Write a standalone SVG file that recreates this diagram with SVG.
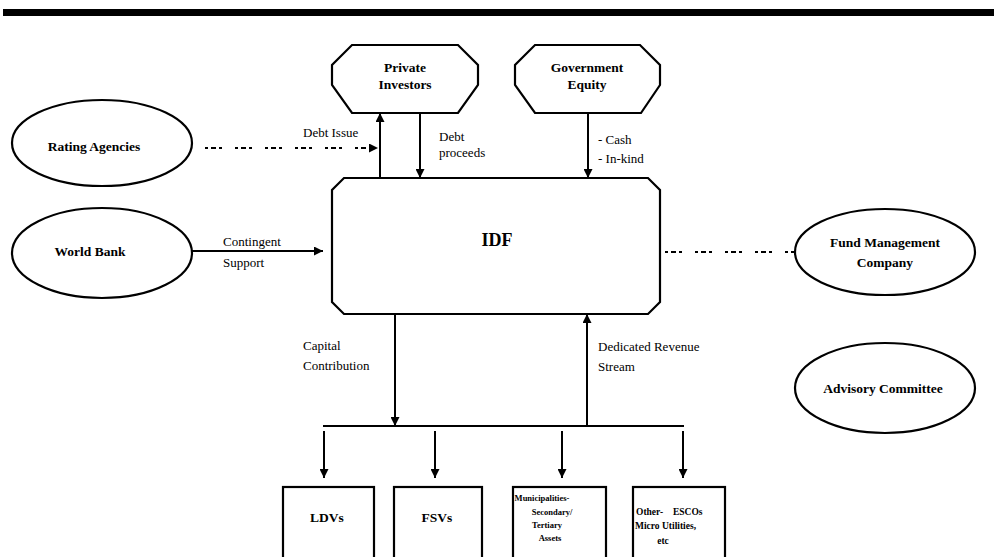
<svg xmlns="http://www.w3.org/2000/svg" width="994" height="557" viewBox="0 0 994 557">
  <style>
    .shape { fill: #fff; stroke: #000; stroke-width: 2.2; }
    .line { fill: none; stroke: #000; stroke-width: 2; }
    .dash { fill: none; stroke: #000; stroke-width: 2.2; stroke-dasharray: 3 3 5 3 3 13; }
    .node { font-family: "Liberation Serif", "Times New Roman", serif; font-weight: bold; font-size: 13.5px; fill: #000; text-anchor: middle; }
    .small { font-family: "Liberation Serif", "Times New Roman", serif; font-weight: bold; font-size: 8.5px; fill: #000; }
    .lbl { font-family: "Liberation Serif", "Times New Roman", serif; font-size: 13px; fill: #000; }
  </style>
  <defs>
    <marker id="arrow" viewBox="0 0 10 10" refX="10" refY="5" markerWidth="9" markerHeight="9" markerUnits="userSpaceOnUse" orient="auto">
      <path d="M0,0 L10,5 L0,10 z" fill="#000"/>
    </marker>
  </defs>

  <rect x="3" y="9" width="991" height="7" fill="#000"/>

  <g id="private-investors">
    <path class="shape" d="M352,45 L458,45 L478,65 L478,85 L458,113 L352,113 L332,85 L332,65 Z"/>
    <text class="node" x="405" y="72">Private</text>
    <text class="node" x="405" y="89">Investors</text>
  </g>
  <g id="government-equity">
    <path class="shape" d="M535,45 L640,45 L660,65 L660,85 L641,113 L535,113 L515,85 L515,65 Z"/>
    <text class="node" x="587" y="72">Government</text>
    <text class="node" x="587" y="89">Equity</text>
  </g>
  <g id="rating-agencies">
    <ellipse class="shape" cx="102" cy="143" rx="90" ry="43"/>
    <text class="node" x="94" y="151">Rating Agencies</text>
  </g>
  <g id="world-bank">
    <ellipse class="shape" cx="102" cy="253" rx="90" ry="45"/>
    <text class="node" x="90" y="256">World Bank</text>
  </g>
  <g id="idf">
    <path class="shape" d="M344,178 L648,178 L660,190 L660,302 L648,314 L344,314 L332,302 L332,190 Z"/>
    <text class="node" x="497" y="246" style="font-size:18px">IDF</text>
  </g>
  <g id="fund-management-company">
    <ellipse class="shape" cx="885" cy="252" rx="90" ry="43"/>
    <text class="node" x="885" y="247">Fund Management</text>
    <text class="node" x="885" y="267">Company</text>
  </g>
  <g id="advisory-committee">
    <ellipse class="shape" cx="885" cy="388" rx="90" ry="45"/>
    <text class="node" x="883" y="393">Advisory Committee</text>
  </g>
  <g id="ldvs">
    <rect class="shape" x="283" y="487" width="91" height="80"/>
    <text class="node" x="327" y="522">LDVs</text>
  </g>
  <g id="fsvs">
    <rect class="shape" x="394" y="487" width="88" height="80"/>
    <text class="node" x="437" y="522">FSVs</text>
  </g>
  <g id="municipalities">
    <rect class="shape" x="513" y="487" width="93" height="80"/>
    <text class="small" x="542" y="501" text-anchor="middle">Municipalities-</text>
    <text class="small" x="552" y="515" text-anchor="middle">Secondary/</text>
    <text class="small" x="547" y="528" text-anchor="middle">Tertiary</text>
    <text class="small" x="550" y="541" text-anchor="middle">Assets</text>
  </g>
  <g id="other">
    <rect class="shape" x="633" y="487" width="92" height="80"/>
    <text class="small" x="636" y="515" style="font-size:9.5px">Other-</text>
    <text class="small" x="673" y="515" style="font-size:9.5px">ESCOs</text>
    <text class="small" x="635" y="529" style="font-size:9.5px">Micro Utilities,</text>
    <text class="small" x="663" y="544" text-anchor="middle" style="font-size:9.5px">etc</text>
  </g>

  <g id="connectors">
    <!-- dotted relations -->
    <line class="dash" x1="205" y1="148" x2="378" y2="148" marker-end="url(#arrow)"/>
    <line class="dash" x1="665" y1="252" x2="795" y2="252"/>
    <!-- funding flows around IDF -->
    <line class="line" x1="380" y1="178" x2="380" y2="113" marker-end="url(#arrow)"/>
    <line class="line" x1="420" y1="113" x2="420" y2="178" marker-end="url(#arrow)"/>
    <line class="line" x1="588" y1="113" x2="588" y2="178" marker-end="url(#arrow)"/>
    <line class="line" x1="192" y1="251" x2="323" y2="251" marker-end="url(#arrow)"/>
    <line class="line" x1="395" y1="314" x2="395" y2="426" marker-end="url(#arrow)"/>
    <line class="line" x1="587" y1="426" x2="587" y2="314" marker-end="url(#arrow)"/>
    <!-- distribution bus -->
    <line class="line" x1="323" y1="426" x2="684" y2="426"/>
    <line class="line" x1="324" y1="431" x2="324" y2="478" marker-end="url(#arrow)"/>
    <line class="line" x1="435" y1="431" x2="435" y2="478" marker-end="url(#arrow)"/>
    <line class="line" x1="562" y1="431" x2="562" y2="478" marker-end="url(#arrow)"/>
    <line class="line" x1="683" y1="431" x2="683" y2="478" marker-end="url(#arrow)"/>
    <!-- labels -->
    <text class="lbl" x="303" y="137">Debt Issue</text>
    <text class="lbl" x="439" y="141">Debt</text>
    <text class="lbl" x="439" y="157">proceeds</text>
    <text class="lbl" x="598" y="144">- Cash</text>
    <text class="lbl" x="598" y="163">- In-kind</text>
    <text class="lbl" x="223" y="246">Contingent</text>
    <text class="lbl" x="223" y="267">Support</text>
    <text class="lbl" x="303" y="350">Capital</text>
    <text class="lbl" x="303" y="370">Contribution</text>
    <text class="lbl" x="598" y="351">Dedicated Revenue</text>
    <text class="lbl" x="598" y="371">Stream</text>
  </g>
</svg>
